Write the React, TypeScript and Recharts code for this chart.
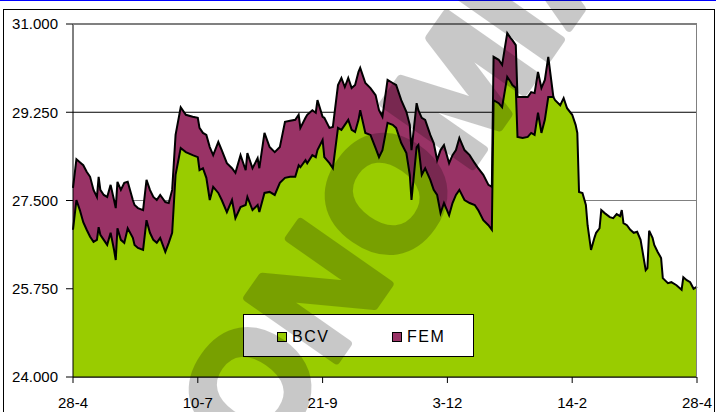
import React from 'react';
import { AreaChart, Area, XAxis, YAxis, CartesianGrid } from 'recharts';

// day offset from 28-4
const days = [
  0, 2, 4, 6, 8, 10, 12, 14, 15, 16, 18, 20, 22, 24, 25, 26, 28, 30, 32, 35,
  36, 38, 41, 43, 45, 47, 49, 51, 54, 56, 58, 60, 63, 66, 70, 73, 74, 76, 78, 80,
  82, 85, 87, 90, 93, 95, 98, 101, 102, 105, 108, 109, 112, 115, 118, 121, 124, 127, 130, 132,
  133, 136, 137, 140, 142, 143, 146, 147, 150, 152, 155, 157, 159, 161, 163, 165, 167, 168, 171, 174,
  177, 179, 181, 184, 187, 189, 192, 195, 197, 198, 201, 202, 204, 206, 209, 211, 213, 215, 217, 220,
  222, 224, 226, 229, 232, 235, 237, 240, 243, 245, 246, 249, 251, 254, 256, 257, 259, 260, 263, 266,
  268, 270, 272, 274, 276, 278, 281, 282, 285, 287, 289, 292, 294, 295, 296, 298, 300, 301, 303, 305,
  306, 308, 309, 311, 314, 316, 318, 320, 321, 322, 324, 326, 328, 330, 332, 333, 335, 336, 337, 339,
  340, 342, 344, 345, 348, 350, 353, 356, 357, 359, 361, 363, 365,
];

const bcv = [
  26920, 27510, 27310, 27070, 26920, 26780, 26680, 26720, 26970, 26820, 26720, 26620, 26860, 26520, 26320, 26950, 26720, 26660, 26950, 26760,
  26620, 26560, 26520, 27110, 26860, 26720, 26660, 26760, 26480, 26660, 26860, 28010, 28540, 28460, 28400, 28360, 28100, 28140, 27950, 27510,
  27770, 27650, 27510, 27270, 27510, 27150, 27370, 27410, 27570, 27310, 27410, 27270, 27650, 27670, 27610, 27850, 27950, 27970, 27970, 28200,
  28160, 28300, 28240, 28400, 28360, 28500, 28700, 28360, 28240, 28140, 28940, 28900, 29000, 29100, 28900, 28860, 29100, 29290, 28840, 28800,
  28540, 28360, 28500, 29040, 29000, 28940, 28640, 28440, 28010, 27510, 28560, 28600, 28010, 28140, 27910, 27710, 27610, 27250, 27450, 27210,
  27450, 27610, 27710, 27510, 27450, 27410, 27310, 27110, 27010, 26920, 29490, 29430, 29350, 29950, 29850, 29790, 29730, 28760, 28740, 28760,
  28840, 28800, 29240, 28840, 29100, 29550, 29550, 29490, 29390, 29530, 29330, 29200, 29000, 28840, 27670, 27650, 27410, 27010, 26520, 26760,
  26860, 26950, 27310, 27250, 27170, 27150, 27230, 27190, 27310, 27050, 27010, 26920, 26860, 26880, 26720, 26520, 26120, 26160, 26900, 26760,
  26620, 26480, 26360, 25960, 25860, 25880, 25820, 25730, 25980, 25920, 25880, 25750, 25790,
];

// FEM is drawn only up to 16-2
const fem = [
  27750, 28320, 28260, 28200, 28070, 27970, 27710, 27570, 27970, 27710, 27610, 27570, 27810, 27510, 27350, 27870, 27710, 27850, 27870, 27510,
  27410, 27350, 27310, 27910, 27710, 27570, 27510, 27610, 27470, 27450, 27710, 28800, 29350, 29200, 29160, 29140, 28940, 28840, 28800, 28560,
  28400, 28660, 28500, 28240, 28140, 28050, 28400, 28100, 28440, 28140, 28340, 28140, 28840, 28560, 28460, 28560, 29060, 29080, 29100, 29200,
  28940, 29140, 29200, 29290, 29240, 29490, 29160, 29140, 28940, 28960, 29790, 29930, 29750, 29930, 29730, 29790, 30050, 30130, 29830, 29730,
  29590, 29290, 29160, 29890, 29830, 29790, 29490, 29260, 29000, 28500, 29430, 29290, 29140, 29100, 28800, 28640, 28300, 28500, 28600, 28240,
  28400, 28500, 28740, 28500, 28400, 28240, 28140, 28010, 27810, 27770, 30350, 30290, 30190, 30820, 30720, 30680, 30580, 29550, 29550, 29550,
  29650, 29630, 30050, 29730, 29890, 30350, 29550,
];

const tickDays = [0, 73, 146, 219, 292, 365];
const tickLabels = ['28-4', '10-7', '21-9', '3-12', '14-2', '28-4'];
const yTicks = [24000, 25750, 27500, 29250, 31000];

const seriesNames = ['BCV', 'FEM'];
const seriesColors = ['#99CC00', '#993366'];

const data = days.map((d, i) => ({ day: d, bcv: bcv[i], fem: fem[i] ?? null }));

const font = '"Liberation Sans", Arial, sans-serif';

const fmtY = (v: number) => (v / 1000).toFixed(3);
const fmtX = (v: number) => tickLabels[tickDays.indexOf(v)] ?? '';

// middle gridline (27.500) is grey in the original, the others black
const gridLine = (p: any) => (
  <line
    key={`h-${p.index}`}
    x1={p.x1}
    y1={p.y1}
    x2={p.x2}
    y2={p.y2}
    stroke={p.index === 2 ? '#808080' : '#000'}
    strokeWidth={1}
  />
);

export default function App() {
  return (
    <div
      style={{
        position: 'absolute',
        left: 0,
        top: 0,
        width: 716,
        height: 412,
        overflow: 'hidden',
        background: '#fff',
        fontFamily: font,
      }}
    >
      {/* blue rule and outer frame */}
      <div style={{ position: 'absolute', left: 0, top: 0, width: 716, height: 1, background: '#0000FF' }} />
      <div
        style={{
          position: 'absolute',
          left: 3,
          top: 9,
          width: 710,
          height: 420,
          border: '1px solid #000',
        }}
      />

      <div style={{ position: 'absolute', left: 0, top: 0 }}>
        <AreaChart
          width={716}
          height={412}
          data={data}
          margin={{ top: 24, right: 19, bottom: 0, left: 0 }}
          style={{ fontFamily: font }}
        >
          <CartesianGrid vertical={false} horizontal={gridLine} />
          <XAxis
            dataKey="day"
            type="number"
            domain={[0, 365]}
            ticks={tickDays}
            tickFormatter={fmtX}
            interval={0}
            height={35}
            tickSize={6}
            tickMargin={14}
            axisLine={{ stroke: '#000' }}
            tickLine={{ stroke: '#000' }}
            tick={{ fill: '#000', fontSize: 15 }}
          />
          <YAxis
            type="number"
            domain={[24000, 31000]}
            ticks={yTicks}
            allowDataOverflow
            tickFormatter={fmtY}
            width={73}
            tickSize={7}
            tickMargin={8}
            axisLine={{ stroke: '#000' }}
            tickLine={{ stroke: '#000' }}
            tick={{ fill: '#000', fontSize: 15 }}
          />
          <Area
            type="linear"
            dataKey="fem"
            name={seriesNames[1]}
            fill={seriesColors[1]}
            fillOpacity={1}
            stroke="#000"
            strokeWidth={2}
            dot={false}
            activeDot={false}
            isAnimationActive={false}
          />
          <Area
            type="linear"
            dataKey="bcv"
            name={seriesNames[0]}
            fill={seriesColors[0]}
            fillOpacity={1}
            stroke="#000"
            strokeWidth={2}
            dot={false}
            activeDot={false}
            isAnimationActive={false}
          />
        </AreaChart>
      </div>

      {/* plot area border, top and right */}
      <div
        style={{
          position: 'absolute',
          left: 73,
          top: 23,
          width: 624,
          height: 354,
          borderTop: '2px solid #808080',
          borderRight: '1px solid #808080',
          boxSizing: 'border-box',
        }}
      />

      {/* legend */}
      <div
        style={{
          position: 'absolute',
          left: 243,
          top: 314,
          width: 231,
          height: 43,
          boxSizing: 'border-box',
          border: '1px solid #000',
          background: '#fff',
        }}
      >
        {seriesNames.map((name, i) => (
          <div
            key={name}
            style={{
              position: 'absolute',
              left: i === 0 ? 33 : 148,
              top: 13,
              display: 'flex',
              alignItems: 'center',
              fontSize: 16,
              letterSpacing: 1.5,
              color: '#000',
            }}
          >
            <span
              style={{
                width: 10,
                height: 10,
                boxSizing: 'border-box',
                border: '1px solid #000',
                background: seriesColors[i],
                marginRight: 5,
              }}
            />
            {name}
          </div>
        ))}
      </div>

      {/* watermark */}
      <svg width={716} height={412} style={{ position: 'absolute', left: 0, top: 0, pointerEvents: 'none' }}>
        <g opacity={0.21}>
          <text
            x={338}
            y={262}
            transform="rotate(-55 338 262)"
            textAnchor="middle"
            dominantBaseline="central"
            fontFamily={font}
            fontWeight="bold"
            fontSize={158}
            fill="#000"
            stroke="#000"
            strokeWidth={8}
            strokeLinejoin="round"
          >
            ECONOMIA
          </text>
        </g>
      </svg>
    </div>
  );
}
